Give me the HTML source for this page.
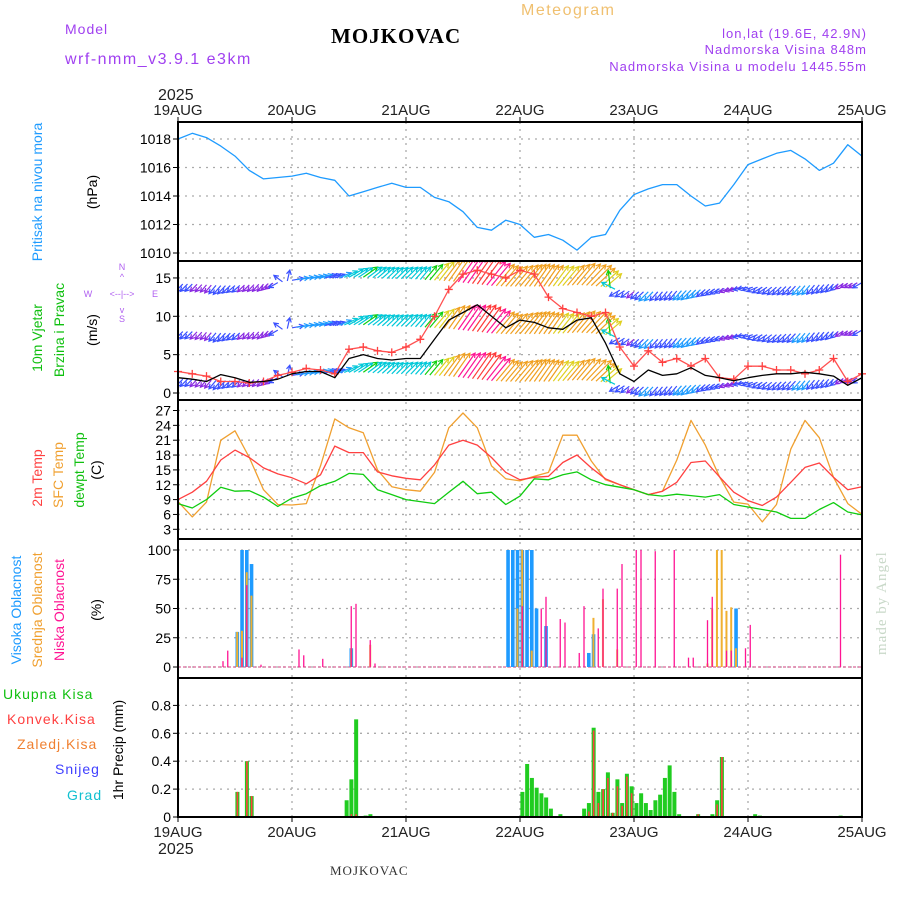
<!DOCTYPE html>
<html><head><meta charset="utf-8"><style>
body{margin:0;background:#fff;}
svg{display:block;font-family:"Liberation Sans",sans-serif;}
</style></head><body>
<svg id="chart" width="900" height="900" viewBox="0 0 900 900" xmlns="http://www.w3.org/2000/svg">
<defs><clipPath id="windclip"><rect x="179" y="262" width="682" height="137"/></clipPath></defs>
<g id="header">
<text x="65" y="34" font-size="14" fill="#a040f0" letter-spacing="1">Model</text>
<text x="65" y="64" font-size="16" fill="#a040f0" letter-spacing="1.5">wrf-nmm_v3.9.1 e3km</text>
<text x="331" y="43" font-size="21" font-weight="bold" font-family="Liberation Serif,serif" fill="#000" letter-spacing="1">MOJKOVAC</text>
<text x="521" y="15" font-size="16" fill="#f0c070" letter-spacing="1.5">Meteogram</text>
<text x="867" y="38" font-size="13" fill="#a040f0" text-anchor="end" letter-spacing="1">lon,lat (19.6E, 42.9N)</text>
<text x="867" y="54" font-size="13" fill="#a040f0" text-anchor="end" letter-spacing="1">Nadmorska Visina 848m</text>
<text x="867" y="71" font-size="13" fill="#a040f0" text-anchor="end" letter-spacing="1">Nadmorska Visina u modelu 1445.55m</text>
<text x="158" y="100" font-size="16" fill="#222">2025</text>
<text x="158" y="854" font-size="16" fill="#222">2025</text>
<text x="330" y="875" font-size="13" font-family="Liberation Serif,serif" fill="#333" letter-spacing="1">MOJKOVAC</text>
<text transform="translate(886,655) rotate(-90)" font-size="15" font-family="Liberation Serif,serif" fill="#c8d8c8" letter-spacing="1">made by Angel</text>
</g>
<g id="labels" font-size="14">
<text transform="translate(42,192) rotate(-90)" text-anchor="middle" fill="#1e9bff">Pritisak na nivou mora</text>
<text transform="translate(97,192) rotate(-90)" text-anchor="middle" fill="#000">(hPa)</text>
<text transform="translate(42,338) rotate(-90)" text-anchor="middle" fill="#10c010">10m Vjetar</text>
<text transform="translate(64,330) rotate(-90)" text-anchor="middle" fill="#10c010">Brzina i Pravac</text>
<text transform="translate(97,330) rotate(-90)" text-anchor="middle" fill="#000">(m/s)</text>
<g fill="#b060f0" font-size="9" text-anchor="middle">
<text x="122" y="270">N</text><text x="122" y="280">^</text>
<text x="88" y="297">W</text><text x="122" y="297">&lt;--|--&gt;</text><text x="155" y="297">E</text>
<text x="122" y="313">v</text><text x="122" y="322">S</text></g>
<text transform="translate(42,478) rotate(-90)" text-anchor="middle" fill="#ff4040">2m Temp</text>
<text transform="translate(63,475) rotate(-90)" text-anchor="middle" fill="#f0a030">SFC Temp</text>
<text transform="translate(84,470) rotate(-90)" text-anchor="middle" fill="#10c010">dewpt Temp</text>
<text transform="translate(101,470) rotate(-90)" text-anchor="middle" fill="#000">(C)</text>
<text transform="translate(21,610) rotate(-90)" text-anchor="middle" fill="#1e9bff">Visoka Oblacnost</text>
<text transform="translate(42,610) rotate(-90)" text-anchor="middle" fill="#f0a030">Srednja Oblacnost</text>
<text transform="translate(64,610) rotate(-90)" text-anchor="middle" fill="#ff1493">Niska Oblacnost</text>
<text transform="translate(101,610) rotate(-90)" text-anchor="middle" fill="#000">(%)</text>
<text x="3" y="699" fill="#10c010" letter-spacing="1">Ukupna Kisa</text>
<text x="7" y="724" fill="#ff4040" letter-spacing="1">Konvek.Kisa</text>
<text x="17" y="749" fill="#f08030" letter-spacing="1">Zaledj.Kisa</text>
<text x="55" y="774" fill="#4040ff" letter-spacing="1">Snijeg</text>
<text x="67" y="800" fill="#10c0d0" letter-spacing="1">Grad</text>
<text transform="translate(123,750) rotate(-90)" text-anchor="middle" fill="#000">1hr Precip (mm)</text>
</g>
<g id="plots"></g>
</svg>
<script>
// ---- data (3-hourly, h = 0..144) ----
const hours3 = [0,3,6,9,12,15,18,21,24,27,30,33,36,39,42,45,48,51,54,57,60,63,66,69,72,75,78,81,84,87,90,93,96,99,102,105,108,111,114,117,120,123,126,129,132,135,138,141,144];
const dayLabels = ["19AUG","20AUG","21AUG","22AUG","23AUG","24AUG","25AUG"];
const pressure = [1018.0,1018.4,1018.1,1017.5,1016.8,1015.8,1015.2,1015.3,1015.4,1015.6,1015.3,1015.1,1014.0,1014.3,1014.6,1014.9,1014.6,1014.6,1013.9,1013.6,1012.9,1011.8,1011.6,1012.3,1012.0,1011.1,1011.3,1010.9,1010.2,1011.1,1011.3,1013.0,1014.1,1014.5,1014.8,1014.8,1014.0,1013.3,1013.5,1014.8,1016.2,1016.6,1017.0,1017.2,1016.6,1015.8,1016.3,1017.6,1016.8];
const pressureTicks = [1010,1012,1014,1016,1018];
const windSpeed = [2.0,1.8,1.5,2.4,2.0,1.4,1.5,1.8,2.5,2.8,2.8,2.0,4.5,5.0,4.5,4.3,4.5,4.5,7.0,9.5,10.5,11.5,10.0,8.5,9.5,9.2,8.5,8.3,9.5,9.8,6.5,2.5,1.5,3.0,2.3,2.5,3.3,2.3,2.0,1.6,2.0,2.3,2.5,2.5,2.7,2.5,2.2,1.0,2.0];
const windGust = [2.8,2.5,2.2,1.5,1.5,1.3,1.5,2.3,2.7,3.2,3.0,2.5,5.7,6.0,5.5,5.3,6.0,7.0,10.0,13.5,15.5,16.0,15.5,15.0,16.0,15.5,12.5,11.0,10.5,10.0,10.5,6.0,3.5,5.5,4.0,4.5,3.5,4.5,2.0,1.8,3.5,3.5,3.0,3.0,2.5,3.0,4.5,1.5,2.5];
const windDir = [45,45,40,40,50,45,40,60,260,260,255,250,240,235,230,225,225,220,220,215,215,215,220,220,220,215,215,220,220,225,230,60,50,45,40,40,45,50,60,70,80,60,50,45,40,40,45,60,60];
const windRowBase = [1.8,1.8,1.7,1.6,1.6,1.7,1.8,2.0,2.3,2.5,2.6,2.6,2.7,2.7,2.6,2.5,2.5,2.4,2.3,2.2,2.0,1.8,1.6,1.5,1.5,1.5,1.5,1.6,1.7,1.6,1.4,1.0,0.8,0.8,0.8,0.9,1.0,1.1,1.2,1.3,1.4,1.4,1.4,1.5,1.6,1.7,1.8,1.9,2.0];
const windTicks = [0,5,10,15];
const temp2m = [9.0,10.5,12.7,17.0,19.0,17.5,15.4,14.2,13.4,12.2,14.0,19.8,18.5,18.5,14.6,13.8,13.3,13.0,16.0,20.0,21.0,20.0,17.5,14.5,13.0,13.5,13.7,16.5,18.0,15.4,13.2,12.0,11.0,10.0,10.7,12.5,16.5,16.8,13.6,10.5,8.8,7.8,9.5,12.5,15.5,16.4,13.5,11.0,11.6];
const tempSfc = [8.6,5.5,8.5,21.0,22.9,17.5,11.0,8.0,7.9,8.2,15.8,25.3,23.5,22.5,15.0,11.6,11.0,10.7,14.5,23.5,26.5,23.5,15.8,13.2,12.8,13.7,14.5,22.0,22.0,16.8,13.0,12.0,11.0,10.0,10.7,17.0,25.0,20.0,13.6,8.5,8.1,4.5,8.0,19.2,25.0,21.5,13.5,8.2,6.0];
const tempDew = [8.2,7.3,9.0,11.5,10.7,10.8,9.5,7.6,9.3,10.2,11.8,12.7,14.3,14.1,11.0,10.0,9.0,8.6,8.2,10.5,12.7,10.2,10.5,8.0,9.7,13.2,13.0,14.0,14.6,13.0,12.0,11.5,11.0,10.0,9.7,10.1,9.8,9.5,10.0,8.0,7.5,7.0,6.5,5.2,5.2,7.0,8.4,6.5,5.9];
const tempTicks = [3,6,9,12,15,18,21,24,27];
const cloudHighHours = [12,13,14,15,36,69,70,71,72,73,74,75,77,86,87,117];
const cloudHighValues = [30,100,100,88,16,100,100,100,100,100,100,50,35,12,28,50];
const cloudMidHours = [12,13,14,15,36,40,71,72,74,87,89,92,111,112,113,114,115,116,117];
const cloudMidValues = [30,31,81,61,16,19,50,100,14,42,58,15,3,50,100,100,48,51,16];
const cloudLowHours = [9,10,13,14,17,25,26,30,36,37,40,41,72,76,77,80,81,84,85,88,89,92,93,96,97,100,104,107,108,111,112,115,116,119,120,139];
const cloudLowValues = [5,14,8,70,2,15,10,7,52,54,23,3,52,50,60,41,38,12,52,33,67,67,88,100,100,99,100,8,8,40,60,14,14,16,36,96];
const cloudTicks = [0,25,50,75,100];
const precipHours = [12,14,15,35,36,37,39,40,72,73,74,75,76,77,78,80,85,86,87,88,89,90,91,92,93,94,95,96,97,98,99,100,101,102,103,104,105,109,112,113,114,121,122,139];
const precipTotal = [0.18,0.40,0.15,0.12,0.27,0.70,0.01,0.02,0.18,0.38,0.28,0.21,0.17,0.14,0.06,0.02,0.06,0.10,0.64,0.18,0.20,0.32,0.03,0.27,0.10,0.31,0.22,0.10,0.17,0.10,0.05,0.12,0.16,0.28,0.37,0.18,0.02,0.02,0.02,0.12,0.43,0.02,0.01,0.01];
const precipConv = [0.18,0.40,0.15,0,0.02,0.02,0,0,0,0,0,0,0,0,0,0,0,0.04,0.62,0.10,0.20,0.28,0.03,0.22,0.08,0.29,0.17,0,0,0,0,0,0,0,0,0,0,0.02,0,0.09,0.43,0,0,0];
const precipTicks = [0,0.2,0.4,0.6,0.8];

// ---- axes ----
const X0 = 178, X1 = 862, HMAX = 144;
const xh = h => X0 + h * (X1 - X0) / HMAX;
const yP = p => 139 + (1018 - p) * 14.25;
const yW = v => 393 - v * 7.67;
const yT = t => 529.3 - (t - 3) * 4.95;
const yC = c => 667 - c * 1.17;
const yR = r => 817 - r * 139.5;
const panels = [[122,261],[261,400],[400,539],[539,678],[678,817]];
const NS = "http://www.w3.org/2000/svg";
const root = document.getElementById('plots');
function mk(tag, attrs, parent) {
  const e = document.createElementNS(NS, tag);
  for (const k in attrs) e.setAttribute(k, attrs[k]);
  (parent || root).appendChild(e);
  return e;
}
function polyline(xs, ys, color, name, parent) {
  const pts = xs.map((h, i) => xh(h).toFixed(1) + ',' + ys[i].toFixed(1)).join(' ');
  const e = mk('polyline', {points: pts, fill: 'none', stroke: color, 'stroke-width': 1.3, 'stroke-linejoin': 'round'}, parent);
  
  
  return e;
}
// grid
const grid = mk('g', {stroke: '#aaa', 'stroke-width': 1.3, 'stroke-dasharray': '2,5'});


for (let d = 1; d < 6; d++) {
  const l = mk('line', {x1: xh(d*24), x2: xh(d*24), y1: 122, y2: 817}, grid);
  
  
}
function hgrid(ticks, fy, fmt, name) {
  ticks.forEach(t => {
    const y = fy(t);
    const l = mk('line', {x1: X0, x2: X1, y1: y, y2: y}, grid);
    
    
    const tk = mk('line', {x1: X0 - 5, x2: X0, y1: y, y2: y, stroke: '#000', 'stroke-width': 1});
    
    
    const tx = mk('text', {x: X0 - 7, y: y + 5, 'font-size': 14, 'text-anchor': 'end', fill: '#000'});
    tx.textContent = fmt(t);
    
    
  });
}
hgrid(pressureTicks, yP, t => t, 'pressure');
hgrid(windTicks, yW, t => t, 'wind');
hgrid(tempTicks, yT, t => t, 'temp');
hgrid(cloudTicks, yC, t => t, 'cloud');
hgrid(precipTicks, yR, t => t === 0 ? '0' : t.toFixed(1), 'precip');
// day labels
dayLabels.forEach((d, i) => {
  [[110], [832]].forEach(([y]) => {
    const t = mk('text', {x: xh(i*24), y: y + 5, 'font-size': 15, 'text-anchor': 'middle', fill: '#222'});
    t.textContent = d;
    
    
  });
  [[122, 117], [817, 822]].forEach(([a, b]) => {
    const l = mk('line', {x1: xh(i*24), x2: xh(i*24), y1: a, y2: b, stroke: '#000'});
    
    
  });
});
// pressure
polyline(hours3, pressure.map(yP), '#1e9bff', 'pressure-line');
// wind arrows
function windColor(s) {
  if (s < 1.8) return '#8a2be2';
  if (s < 2.6) return '#3a50ff';
  if (s < 3.5) return '#1e9bff';
  if (s < 5) return '#00c8d8';
  if (s < 6.5) return '#10d010';
  if (s < 8.5) return '#e0d020';
  if (s < 10) return '#f0a020';
  if (s < 11) return '#ff1493';
  return '#ff3a3a';
}
const wg = mk('g', {'clip-path': 'url(#windclip)', 'stroke-width': 1.2, fill: 'none'});


function interp(arr, h) {
  const i = Math.min(Math.floor(h / 3), arr.length - 2), f = (h - i*3) / 3;
  return arr[i] * (1 - f) + arr[i+1] * f;
}
for (let h = 0; h <= 144; h++) {
  const s = interp(windSpeed, h), dir = interp(windDir, h), base = interp(windRowBase, h);
  const len = 6 + s * 2.3;
  const rad = (dir + 180) * Math.PI / 180; // direction wind blows toward
  const dx = Math.sin(rad) * len, dy = -Math.cos(rad) * len;
  const col = windColor(s);
  for (let k = -1; k <= 2; k++) {
    const x0 = xh(h), y0 = yW(base + k * 6.2);
    const x1 = x0 + dx, y1 = y0 + dy;
    const a = Math.atan2(dy, dx);
    const hd = 5;
    const p = `M${x0.toFixed(1)},${y0.toFixed(1)}L${x1.toFixed(1)},${y1.toFixed(1)}M${(x1 - hd*Math.cos(a-0.5)).toFixed(1)},${(y1 - hd*Math.sin(a-0.5)).toFixed(1)}L${x1.toFixed(1)},${y1.toFixed(1)}L${(x1 - hd*Math.cos(a+0.5)).toFixed(1)},${(y1 - hd*Math.sin(a+0.5)).toFixed(1)}`;
    const e = mk('path', {d: p, stroke: col}, wg);
    
    
  }
}
polyline(hours3, windGust.map(yW), '#ff5050', 'wind-gust-line');
hours3.forEach((h, i) => {
  const x = xh(h), y = yW(windGust[i]);
  const e = mk('path', {d: `M${x-4},${y}H${x+4}M${x},${y-4}V${y+4}`, stroke: '#ff4040', 'stroke-width': 1.3});
  
  
});
polyline(hours3, windSpeed.map(yW), '#000', 'wind-speed-line');
// temperatures
polyline(hours3, tempSfc.map(yT), '#f0a030', 'sfc-temp-line');
polyline(hours3, temp2m.map(yT), '#ff4040', '2m-temp-line');
polyline(hours3, tempDew.map(yT), '#10cc10', 'dewpoint-line');
// clouds
const zero = mk('line', {x1: X0, x2: X1, y1: yC(0), y2: yC(0), stroke: '#d04080', 'stroke-width': 1, 'stroke-dasharray': '3,2'});


function bars(hs, vs, fy, color, w, off, name) {
  hs.forEach((h, i) => {
    if (vs[i] <= 0) return;
    const y = fy(vs[i]);
    const e = mk('rect', {x: xh(h) + off, y: y, width: w, height: fy(0) - y, fill: color});
    
    
  });
}
bars(cloudHighHours, cloudHighValues, yC, '#1e9bff', 3.6, 0.5, 'high-cloud-bar');
bars(cloudMidHours, cloudMidValues, yC, '#f0b030', 2, 1.2, 'mid-cloud-bar');
bars(cloudLowHours, cloudLowValues, yC, '#ff1493', 1.3, 1.6, 'low-cloud-bar');
// precip
bars(precipHours, precipTotal, yR, '#20cc20', 4, 0.4, 'total-precip-bar');
bars(precipHours, precipConv, yR, '#ff4040', 1.6, 1.6, 'convective-precip-bar');
// frames
panels.forEach(([a, b], i) => {
  const r = mk('rect', {x: X0, y: a, width: X1 - X0, height: b - a, fill: 'none', stroke: '#000', 'stroke-width': 2});
  
  
});
</script>
</body></html>
